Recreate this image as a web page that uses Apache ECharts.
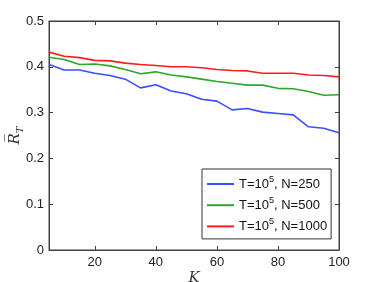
<!DOCTYPE html>
<html><head><meta charset="utf-8">
<script src="https://cdn.jsdelivr.net/npm/echarts@6/dist/echarts.min.js"></script>
<style>html,body{margin:0;padding:0;background:#fff}#c{width:374px;height:282px}</style>
</head><body><div id="c"></div>
<script>
var K = [5,10,15,20,25,30,35,40,45,50,55,60,65,70,75,80,85,90,95,100];
var n250  = [0.405,0.393,0.393,0.386,0.381,0.373,0.354,0.361,0.347,0.341,0.329,0.325,0.306,0.309,0.301,0.298,0.295,0.269,0.266,0.256];
var n500  = [0.421,0.416,0.405,0.406,0.402,0.394,0.385,0.389,0.382,0.378,0.373,0.368,0.364,0.360,0.360,0.353,0.352,0.346,0.338,0.339];
var n1000 = [0.432,0.423,0.420,0.414,0.413,0.408,0.405,0.403,0.400,0.400,0.398,0.394,0.392,0.391,0.386,0.386,0.386,0.382,0.381,0.378];
var xTicks = [20,40,60,80,100];
var seriesNames = ['N=250','N=500','N=1000'];
var colors = ['#3a4dff','#2aa82a','#ff1c1c'];

function pairs(v){ return K.map(function(k,i){ return [k, v[i]]; }); }
var chart = echarts.init(document.getElementById('c'));
var axisCol = '#404040';
var font = 'Liberation Sans';
function mkX(pos, showLabel, name){
  return {
    type:'value', position:pos, min:5, max:100,
    axisLine:{show:true, onZero:false, lineStyle:{color:axisCol, width:1}},
    axisTick:{show:true, inside:true, length:4, customValues:xTicks.slice(0,4), lineStyle:{color:axisCol}},
    axisLabel:{show:showLabel, customValues:xTicks, color:'#222', fontFamily:font, fontSize:13, margin:6},
    splitLine:{show:false},
    name:name, nameLocation:'middle', nameGap:19, nameMoveOverlap:false,
    nameTextStyle:{
      rich:{k:{fontFamily:'DejaVu Serif', fontStyle:'italic', fontSize:15, color:'#333', lineHeight:18}}
    }
  };
}
function mkY(pos, showLabel, name){
  return {
    type:'value', position:pos, min:0, max:0.5, interval:0.1,
    axisLine:{show:true, onZero:false, lineStyle:{color:axisCol, width:1}},
    axisTick:{show:true, inside:true, length:4, lineStyle:{color:axisCol}},
    axisLabel:{show:showLabel, color:'#222', fontFamily:font, fontSize:13, margin:5},
    splitLine:{show:false},
    name:name, nameLocation:'middle', nameGap:24, nameMoveOverlap:false,
    nameTextStyle:{
      rich:{
        r:{fontFamily:'DejaVu Serif', fontStyle:'italic', fontSize:15, color:'#333', lineHeight:20, verticalAlign:'middle'},
        t:{fontFamily:'DejaVu Serif', fontStyle:'italic', fontSize:10, color:'#333', lineHeight:10, verticalAlign:'bottom'}
      }
    }
  };
}
var data = [n250, n500, n1000];
chart.setOption({
  animation:false,
  grid:{left:49, right:35, top:21, bottom:32, show:true, borderColor:axisCol, borderWidth:1, backgroundColor:'transparent', outerBoundsMode:'none', containLabel:false},
  xAxis:[mkX('bottom', true, '{k|K}'), mkX('top', false, '')],
  yAxis:[mkY('left', true, '{r|R\u0305}{t|T}'), mkY('right', false, '')],
  legend:{
    orient:'vertical', left:202, top:169, width:133,
    backgroundColor:'#fff', borderColor:'#333', borderWidth:1,
    padding:[6,4,6,5], itemWidth:27, itemHeight:2, itemGap:5.7, icon:'rect',
    data:seriesNames,
    formatter:function(n){ return '{a|T=10}{s|5}{a|, ' + n + '}'; },
    textStyle:{
      rich:{
        a:{fontFamily:font, fontSize:13, color:'#111', lineHeight:18, verticalAlign:'middle'},
        s:{fontFamily:font, fontSize:9, color:'#111', lineHeight:9, verticalAlign:'top'}
      }
    }
  },
  series: seriesNames.map(function(n,i){
    return {name:n, type:'line', data:pairs(data[i]), symbol:'none', color:colors[i],
      lineStyle:{width:1.6, color:colors[i]}, xAxisIndex:0, yAxisIndex:0};
  })
});
</script></body></html>
